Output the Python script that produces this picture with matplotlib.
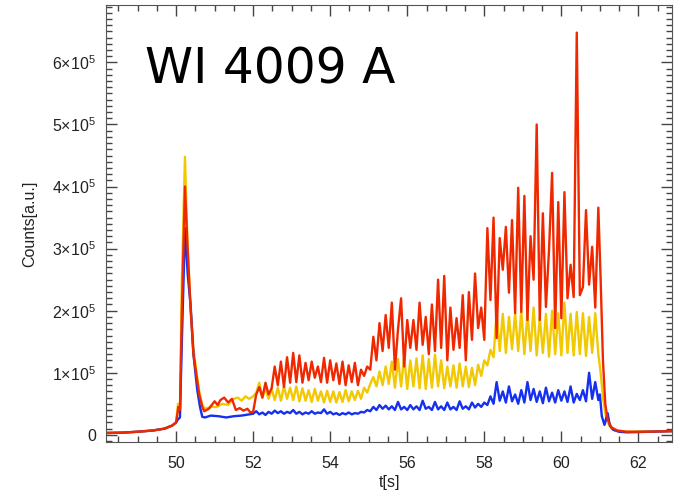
import numpy as np
import matplotlib
matplotlib.use("Agg")
import matplotlib.pyplot as plt
from matplotlib.ticker import MultipleLocator, FuncFormatter

# ============================
# Data (counts in units of 1e4)
# ============================
# rise + spike + plateau start, explicit times
t_head_red = [48.2, 48.6, 49.0, 49.4, 49.7, 49.9, 50.0, 50.06, 50.1, 50.15, 50.23, 50.3, 50.38,
              50.45, 50.52, 50.6, 50.68, 50.73, 50.85, 51.0, 51.08, 51.15, 51.25, 51.35, 51.45,
              51.55, 51.65, 51.75, 51.85, 51.93]
red_head = [0.3, 0.35, 0.5, 0.7, 1.0, 1.5, 2.0, 4.5, 4.0, 20, 40, 30, 20,
            13, 10, 6.5, 4.5, 3.8, 4.2, 5.4, 4.8, 5.6, 6.0, 5.2, 5.8,
            4.0, 4.3, 3.9, 4.2, 3.6]

t_head_yel = [48.2, 48.6, 49.0, 49.4, 49.7, 49.9, 50.0, 50.05, 50.1, 50.15, 50.23, 50.3, 50.38,
              50.45, 50.52, 50.6, 50.68, 50.75, 50.9, 51.06, 51.2, 51.35, 51.5, 51.6, 51.7,
              51.8, 51.9]
yel_head = [0.3, 0.35, 0.5, 0.7, 1.0, 1.5, 2.0, 5.0, 3.5, 25, 44.8, 30, 20,
            14, 10.5, 7, 4.8, 4.2, 4.5, 4.5, 5.0, 4.8, 5.8, 6.0, 5.5,
            6.2, 5.8]

t_head_blu = [48.2, 48.6, 49.0, 49.4, 49.7, 49.9, 50.0, 50.05, 50.1, 50.15, 50.23, 50.3, 50.38,
              50.45, 50.55, 50.62, 50.68, 50.75, 50.9, 51.1, 51.3, 51.5, 51.7, 51.9]
blu_head = [0.3, 0.35, 0.5, 0.7, 1.0, 1.5, 2.0, 2.5, 2.8, 15, 33.3, 26, 20.6,
            13, 7.2, 4.5, 2.9, 2.8, 3.1, 3.0, 2.8, 3.0, 3.1, 3.3]

# oscillating part, sampled every 0.08 s from 52.00 s
t0_osc, dt_osc = 52.0, 0.08
red_osc = [3.7, 6.5, 7.7, 6.0, 8.4, 6.5, 7.5, 11.0, 8.0, 11.8, 7.7, 12.5, 8.4,
           13.2, 8.5, 12.8, 8.4, 11.6, 8.8, 11.8, 9.2, 11.0, 8.5, 12.4, 8.4, 12.0,
           8.8, 11.5, 8.2, 11.8, 8.0, 11.2, 8.5, 11.6, 8.0, 10.5, 9.5, 11.0, 10.5,
           15.8, 12.0, 18.0, 13.5, 19.3, 14.0, 21.3, 10.5, 17.0, 22.0, 11.0, 18.5,
           14.0, 18.5, 13.7, 21.3, 14.5, 19.0, 13.0, 21.0, 13.5, 25.0, 14.0, 25.6,
           12.0, 20.5, 13.7, 18.8, 14.0, 22.5, 12.0, 23.0, 15.3, 26.0, 17.2, 20.5,
           15.3, 33.3, 21.7, 35.0, 15.6, 31.7, 26.6, 33.5, 22.9, 34.6, 19.6, 39.8,
           19.8, 38.5, 18.5, 32.0, 25.0, 50.0, 18.5, 35.7, 20.6, 29.8, 42.2, 17.2,
           37.5, 18.8, 39.1, 22.0, 27.4, 22.2, 64.8, 22.5, 23.8, 36.2, 24.2, 30.3, 20.5, 36.6]
yel_osc = [6.2, 6.8, 8.4, 6.0, 7.5, 5.8, 7.4, 5.6, 7.6, 5.5, 7.8, 5.8, 7.6,
           5.6, 7.8, 5.4, 7.5, 5.5, 7.2, 5.3, 7.4, 5.5, 7.0, 5.2, 7.1, 5.3,
           7.0, 5.2, 6.9, 5.3, 7.2, 5.4, 7.0, 5.6, 7.1, 5.8, 7.6, 6.8, 8.2,
           9.3, 7.8, 10.2, 8.0, 11.0, 8.2, 11.8, 7.6, 12.2, 7.8, 12.6, 7.4,
           12.0, 7.8, 12.3, 7.5, 12.8, 7.4, 12.2, 7.6, 12.9, 7.8, 12.0, 7.5,
           11.0, 7.8, 11.2, 7.6, 11.5, 7.8, 11.0, 7.7, 10.8, 8.0, 11.3, 9.5,
           12.0, 11.2, 13.7, 12.5, 19.8, 13.5, 19.5, 13.2, 19.0, 13.8, 19.6, 13.5,
           20.0, 13.0, 19.5, 13.5, 20.5, 12.8, 19.0, 13.2, 19.5, 12.6, 20.0, 13.0,
           19.6, 12.8, 21.3, 13.2, 19.5, 12.8, 19.8, 13.0, 19.6, 12.7, 19.0, 13.2, 19.6, 13.0]
blu_osc = [3.4, 3.8, 3.3, 3.6, 3.2, 3.7, 3.4, 3.9, 3.5, 3.8, 3.4, 3.7, 3.5,
           4.0, 3.4, 3.7, 3.3, 3.6, 3.4, 3.8, 3.4, 3.6, 3.5, 4.1, 3.4, 3.7,
           3.3, 3.5, 3.2, 3.5, 3.3, 3.6, 3.3, 3.5, 3.4, 3.7, 3.6, 4.0, 3.8,
           4.5, 4.0, 4.8, 4.2, 4.7, 4.1, 4.6, 4.0, 5.3, 4.1, 4.5, 4.0,
           4.8, 4.1, 4.6, 4.0, 5.5, 4.2, 4.5, 4.0, 5.3, 4.1, 4.6, 4.0,
           5.2, 4.1, 4.5, 4.0, 5.4, 4.2, 4.6, 4.1, 5.2, 4.4, 5.0, 4.5,
           5.2, 4.8, 6.2, 5.0, 8.5, 5.5, 7.0, 5.2, 7.8, 5.4, 6.5, 5.0,
           7.2, 5.2, 8.5, 5.6, 7.4, 5.3, 7.0, 5.1, 7.6, 5.4, 6.8, 5.2,
           7.2, 5.5, 7.0, 5.3, 7.8, 5.2, 6.6, 5.6, 7.2, 5.4, 10.0, 5.8, 8.5, 5.6]

# shutdown
t_tail_red = [61.02, 61.08, 61.14, 61.2, 61.3, 61.45, 61.7, 62.2, 62.9]
red_tail = [25, 12, 5, 2.5, 1.2, 0.7, 0.5, 0.5, 0.6]
t_tail_yel = [61.02, 61.08, 61.14, 61.2, 61.3, 61.45, 61.7, 62.9]
yel_tail = [10, 6, 3.5, 2, 1.0, 0.6, 0.5, 0.6]
t_tail_blu = [61.0, 61.05, 61.12, 61.2, 61.26, 61.35, 61.5, 61.7, 62.9]
blu_tail = [6.5, 3.0, 1.6, 3.5, 1.5, 0.8, 0.5, 0.4, 0.6]


def series(t_head, v_head, v_osc, t_tail, v_tail):
    t_osc = t0_osc + dt_osc * np.arange(len(v_osc))
    t = np.concatenate([t_head, t_osc, t_tail])
    v = np.concatenate([v_head, v_osc, v_tail]) * 1e4
    return t, v


t_r, red = series(t_head_red, red_head, red_osc, t_tail_red, red_tail)
t_y, yel = series(t_head_yel, yel_head, yel_osc, t_tail_yel, yel_tail)
t_b, blu = series(t_head_blu, blu_head, blu_osc, t_tail_blu, blu_tail)

# ============================
# Plot
# ============================
plt.rcParams['font.family'] = ['Liberation Sans', 'DejaVu Sans']
plt.rcParams['mathtext.default'] = 'regular'

fig = plt.figure(figsize=(6.75, 4.95), dpi=100)
ax = fig.add_axes([0.157, 0.1065, 0.839, 0.884])

ax.plot(t_y, yel, color='#f2c800', lw=1.7)
ax.plot(t_b, blu, color='#1530f0', lw=1.7)
ax.plot(t_r, red, color='#f02800', lw=1.7)

ax.set_xlim(48.18, 62.88)
ax.set_ylim(-1.2e4, 6.93e5)

ax.xaxis.set_major_locator(MultipleLocator(2))
ax.xaxis.set_minor_locator(MultipleLocator(0.5))
ax.yaxis.set_major_locator(MultipleLocator(1e5))
ax.yaxis.set_minor_locator(MultipleLocator(1e4))


def ylab(v, pos):
    n = int(round(v / 1e5))
    if n == 0:
        return '0'
    return r'$%d{\times}10^{5}$' % n


ax.yaxis.set_major_formatter(FuncFormatter(ylab))
ax.tick_params(which='both', direction='in', top=True, right=True,
               colors='#444444', labelcolor='#222222', labelsize=11.5)
ax.tick_params(which='major', length=8, width=1)
ax.tick_params(which='minor', length=4, width=1)
ax.tick_params(axis='x', which='major', pad=10)
ax.tick_params(axis='y', which='major', pad=7)
for s in ax.spines.values():
    s.set_color('#555555')

ax.set_xlabel('t[s]', fontsize=11.5, color='#222222', labelpad=3)
ax.set_ylabel('Counts[a.u.]', fontsize=11.5, color='#222222', labelpad=11)

ax.text(0.069, 0.821, 'WI 4009 A', transform=ax.transAxes, fontsize=35,
        family='DejaVu Sans', va='baseline', ha='left', color='black')

fig.savefig('out.png', dpi=100)
